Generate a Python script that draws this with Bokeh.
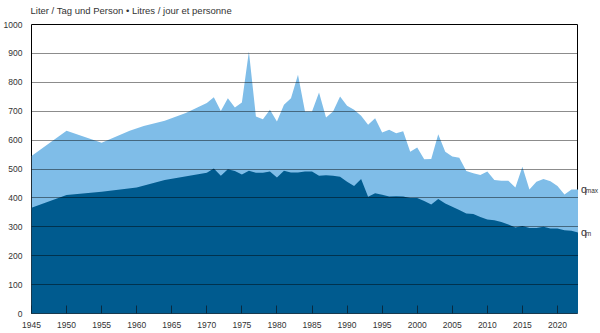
from bokeh.plotting import figure
from bokeh.models import FixedTicker
from bokeh.layouts import row, column
from bokeh.core.properties import value
from bokeh.embed import file_html
from bokeh.resources import INLINE

years_max = [1945, 1950, 1955, 1959, 1961, 1964, 1967, 1970, 1971, 1972, 1973, 1974, 1975,
             1976, 1977, 1978, 1979, 1980, 1981, 1982, 1983, 1984, 1985, 1986, 1987, 1988,
             1989, 1990, 1991, 1992, 1993, 1994, 1995, 1996, 1997, 1998, 1999, 2000, 2001,
             2002, 2003, 2004, 2005, 2006, 2007, 2008, 2009, 2010, 2011, 2012, 2013, 2014,
             2015, 2016, 2017, 2018, 2019, 2020, 2021, 2022, 2023]
q_max = [545, 632, 591, 632, 649, 667, 694, 728, 748, 701, 745, 713, 730,
         907, 682, 672, 705, 664, 722, 745, 826, 699, 699, 765, 678, 699,
         751, 719, 705, 684, 653, 676, 626, 636, 624, 631, 560, 574, 534,
         535, 620, 560, 543, 539, 493, 485, 479, 491, 462, 459, 459, 436,
         508, 429, 456, 465, 458, 441, 412, 429, 429]

years_m = [1945, 1950, 1955, 1960, 1964, 1970, 1971, 1972, 1973, 1974, 1975, 1976, 1977,
           1978, 1979, 1980, 1981, 1982, 1983, 1984, 1985, 1986, 1987, 1988, 1989, 1990,
           1991, 1992, 1993, 1994, 1995, 1996, 1997, 1998, 1999, 2000, 2001, 2002, 2003,
           2004, 2005, 2006, 2007, 2008, 2009, 2010, 2011, 2012, 2013, 2014, 2015, 2016,
           2017, 2018, 2019, 2020, 2021, 2022, 2023]
q_m = [366, 410, 421, 436, 462, 487, 502, 477, 499, 493, 481, 494, 487,
       487, 491, 471, 494, 488, 488, 491, 491, 477, 478, 477, 473, 456,
       441, 465, 404, 416, 411, 405, 406, 405, 400, 400, 389, 377, 396,
       381, 369, 358, 346, 344, 334, 325, 323, 317, 308, 298, 303, 296,
       296, 300, 294, 294, 288, 286, 280]

x_ticks = list(range(1945, 2021, 5))
y_ticks = list(range(0, 1001, 100))
title_text = "Liter / Tag und Person \u2022 Litres / jour et personne"
series_names = ["q", "q"]
series_subs = ["max", "m"]

FONT = "Liberation Sans"
TXT = "#333333"
HEAD_H = 20
MAIN_H = 333 - HEAD_H
TOP, BOTTOM = 4, 20
SIDE_W = 22


def bare(fig):
    fig.axis.visible = False
    fig.grid.visible = False
    fig.outline_line_color = None


# header with the unit line
t = figure(width=600, height=HEAD_H, x_range=(0, 600), y_range=(0, HEAD_H),
           output_backend="svg", toolbar_location=None,
           min_border_left=0, min_border_right=0, min_border_top=0, min_border_bottom=0)
bare(t)
t.text(x=[30], y=[HEAD_H - 10], text=[title_text], text_font=value(FONT),
       text_font_size="9.5px", text_color=TXT, text_baseline="middle")

p = figure(width=600 - SIDE_W, height=MAIN_H, x_range=(1945, 2023), y_range=(0, 1000),
           output_backend="svg", toolbar_location=None,
           min_border_left=29, min_border_right=0, min_border_top=TOP,
           min_border_bottom=BOTTOM)

p.varea(x=years_max, y1=0, y2=q_max, fill_color="#7fbde8")
p.varea(x=years_m, y1=0, y2=q_m, fill_color="#005b8f")

p.outline_line_color = "black"
p.outline_line_width = 1

p.xgrid.visible = False
p.ygrid.ticker = FixedTicker(ticks=y_ticks)
p.ygrid.level = "overlay"
p.ygrid.grid_line_color = "black"
p.ygrid.grid_line_alpha = 0.45
p.ygrid.grid_line_width = 1

p.xaxis.ticker = FixedTicker(ticks=x_ticks)
p.xaxis.major_tick_in = 8
p.xaxis.major_tick_out = 0
p.xaxis.major_tick_line_color = "#0a2a40"
p.xaxis.minor_tick_line_color = None
p.xaxis.axis_line_color = None
p.xaxis.major_label_standoff = 8

p.yaxis.ticker = FixedTicker(ticks=y_ticks)
p.yaxis.major_tick_in = 0
p.yaxis.major_tick_out = 0
p.yaxis.minor_tick_line_color = None
p.yaxis.axis_line_color = None
p.yaxis.major_label_standoff = 9

for ax in (p.xaxis[0], p.yaxis[0]):
    ax.major_label_text_font = FONT
    ax.major_label_text_font_size = "8.5px"
    ax.major_label_text_color = TXT

# side panel for the series labels
s = figure(width=SIDE_W, height=MAIN_H, x_range=(0, SIDE_W), y_range=(0, 1000),
           output_backend="svg", toolbar_location=None,
           min_border_left=0, min_border_right=0, min_border_top=TOP,
           min_border_bottom=BOTTOM)
bare(s)
last_vals = [q_max[-1], q_m[-1]]
s.text(x=[2.5, 2.5], y=last_vals, text=series_names, text_font=value(FONT),
       text_font_size="10.5px", text_color=TXT, text_baseline="alphabetic",
       y_offset=[-1, -1])
s.text(x=[7.3, 7.3], y=last_vals, text=series_subs, text_font=value(FONT),
       text_font_size="6.5px", text_color=TXT, text_baseline="alphabetic",
       y_offset=[1, 1])

body = row(p, s)
body.spacing = 0
layout = column(t, body)
layout.spacing = 0
open("out.html", "w").write(file_html(layout, INLINE))
